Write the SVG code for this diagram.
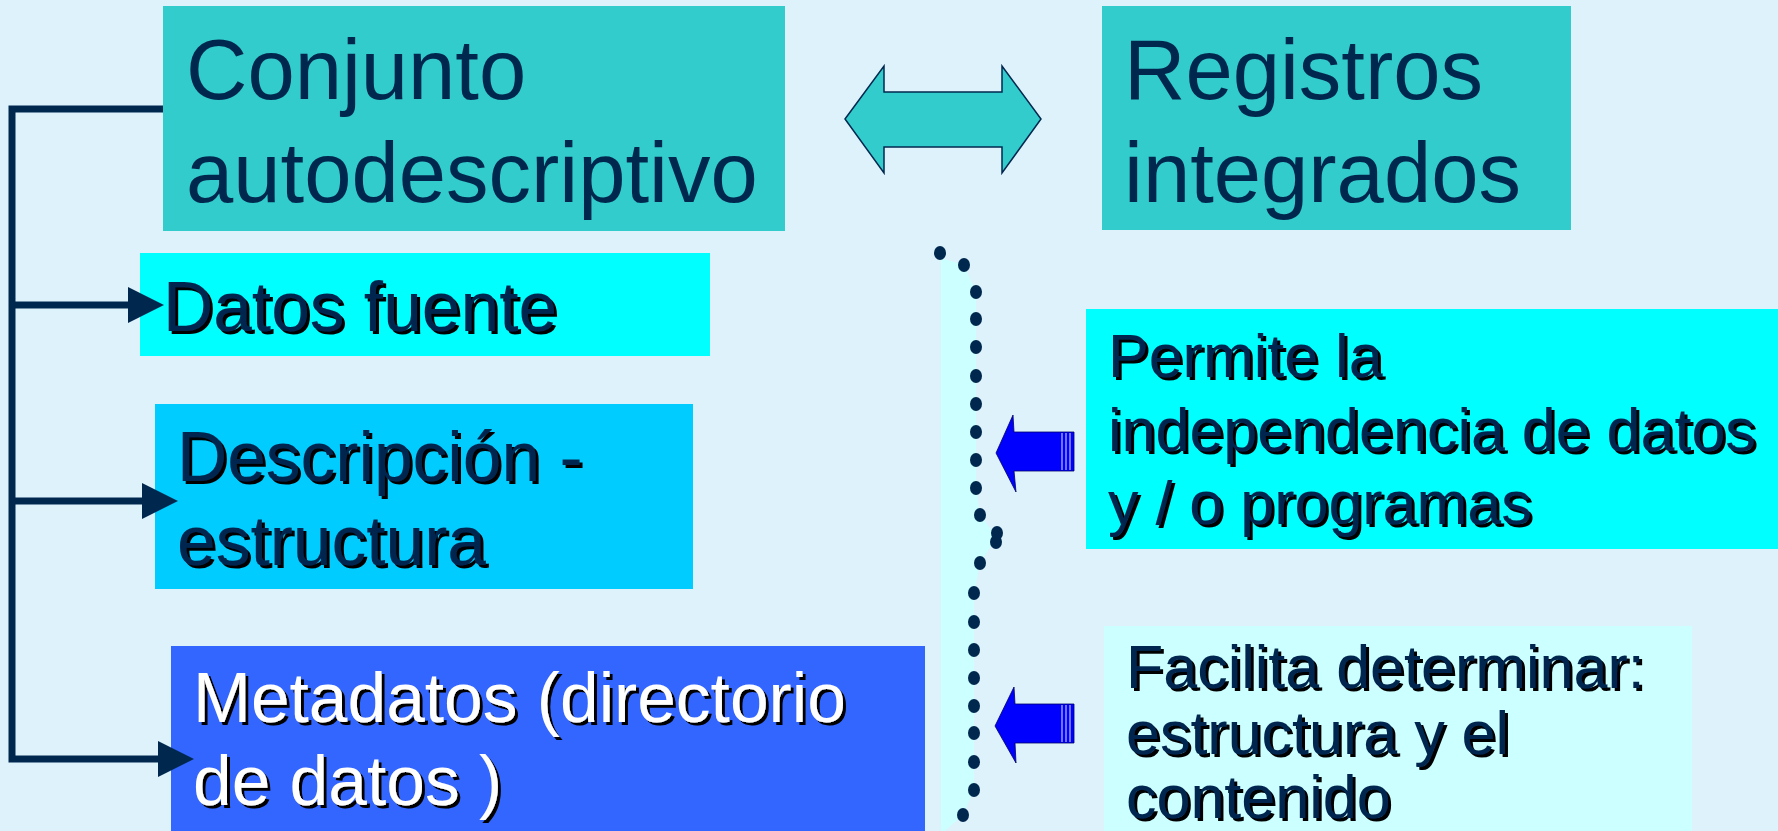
<svg xmlns="http://www.w3.org/2000/svg" width="1778" height="831" viewBox="0 0 1778 831">
<style>
.t{font-family:"Liberation Sans",Arial,sans-serif;}
.big{font-size:85px;fill:#00284F;}
.mid{font-size:69.5px;fill:#00284F;}
.sm{font-size:61px;fill:#00284F;}
.wh{font-size:69.5px;fill:#FFFFFF;}
.sh{filter:url(#shadow);}
.conn{fill:none;stroke:#00284F;stroke-width:7;}
.dot{fill:#00284F;}
.barrow{fill:#0000FF;stroke:#000066;stroke-width:0.8;}
.stripe{stroke:#9999FF;stroke-width:1.5;}
</style>
<defs>
<filter id="shadow" x="-5%" y="-10%" width="115%" height="130%">
<feDropShadow dx="3" dy="3" stdDeviation="0" flood-color="#000000" flood-opacity="1"/>
</filter>
<marker id="ah" viewBox="0 0 36 36" refX="0" refY="18" markerWidth="36" markerHeight="36" markerUnits="userSpaceOnUse" orient="auto">
<path d="M0,0 L36,18 L0,36 Z" fill="#00284F"/>
</marker>
</defs>
<rect x="0" y="0" width="1778" height="831" fill="#DEF2FC"/>

<g id="conjunto">
<rect x="163" y="6" width="622" height="225" fill="#33CCCC"/>
<text class="t big" x="186" y="99">Conjunto</text>
<text class="t big" x="186" y="202">autodescriptivo</text>
</g>

<g id="double-arrow">
<path d="M845,119 L884,66 L884,92 L1002,92 L1002,66 L1041,119 L1002,173 L1002,147 L884,147 L884,173 Z" fill="#33CCCC" stroke="#00284F" stroke-width="1.5"/>
</g>

<g id="registros">
<rect x="1102" y="6" width="469" height="224" fill="#33CCCC"/>
<text class="t big" x="1124" y="99">Registros</text>
<text class="t big" x="1124" y="202">integrados</text>
</g>

<g id="datos-fuente">
<rect x="140" y="253" width="570" height="103" fill="#00FFFF"/>
<text class="t mid sh" x="163" y="331">Datos fuente</text>
</g>

<g id="descripcion">
<rect x="155" y="404" width="538" height="185" fill="#00CCFF"/>
<text class="t mid sh" x="177" y="481">Descripción -</text>
<text class="t mid sh" x="177" y="565">estructura</text>
</g>

<g id="metadatos">
<rect x="171" y="646" width="754" height="185" fill="#3366FF"/>
<text class="t wh sh" x="193" y="722">Metadatos (directorio</text>
<text class="t wh sh" x="193" y="805">de datos )</text>
</g>

<g id="bracket">
<polygon points="941,258 964,265 976,292 976,488 980,515 997,537 980,563 974,593 974,790 963,815 945,831 941,831" fill="#CCFFFF"/>
<ellipse class="dot" cx="940" cy="253" rx="6" ry="7"/>
<ellipse class="dot" cx="964" cy="265" rx="6" ry="7"/>
<ellipse class="dot" cx="976" cy="292" rx="6" ry="7"/>
<ellipse class="dot" cx="976" cy="319" rx="6" ry="7"/>
<ellipse class="dot" cx="976" cy="347" rx="6" ry="7"/>
<ellipse class="dot" cx="976" cy="376" rx="6" ry="7"/>
<ellipse class="dot" cx="976" cy="404" rx="6" ry="7"/>
<ellipse class="dot" cx="976" cy="432" rx="6" ry="7"/>
<ellipse class="dot" cx="976" cy="460" rx="6" ry="7"/>
<ellipse class="dot" cx="976" cy="488" rx="6" ry="7"/>
<ellipse class="dot" cx="980" cy="515" rx="6" ry="7"/>
<ellipse class="dot" cx="997" cy="533" rx="6" ry="7"/>
<ellipse class="dot" cx="996" cy="542" rx="6" ry="7"/>
<ellipse class="dot" cx="980" cy="563" rx="6" ry="7"/>
<ellipse class="dot" cx="974" cy="593" rx="6" ry="7"/>
<ellipse class="dot" cx="974" cy="622" rx="6" ry="7"/>
<ellipse class="dot" cx="974" cy="650" rx="6" ry="7"/>
<ellipse class="dot" cx="974" cy="678" rx="6" ry="7"/>
<ellipse class="dot" cx="974" cy="706" rx="6" ry="7"/>
<ellipse class="dot" cx="974" cy="733" rx="6" ry="7"/>
<ellipse class="dot" cx="974" cy="762" rx="6" ry="7"/>
<ellipse class="dot" cx="974" cy="790" rx="6" ry="7"/>
<ellipse class="dot" cx="963" cy="815" rx="6" ry="7"/>
</g>

<g id="arrow-permite">
<path class="barrow" d="M996,453 L1013,415 L1014,432 L1074,432 L1074,471 L1014,471 L1016,492 Z"/>
<line class="stripe" x1="1062" y1="433" x2="1062" y2="470"/>
<line class="stripe" x1="1066" y1="433" x2="1066" y2="470"/>
<line class="stripe" x1="1070" y1="433" x2="1070" y2="470"/>
</g>

<g id="arrow-facilita">
<path class="barrow" d="M995,726 L1014,687 L1015,704 L1074,704 L1074,743 L1015,743 L1016,763 Z"/>
<line class="stripe" x1="1062" y1="705" x2="1062" y2="742"/>
<line class="stripe" x1="1066" y1="705" x2="1066" y2="742"/>
<line class="stripe" x1="1070" y1="705" x2="1070" y2="742"/>
</g>

<g id="permite">
<rect x="1086" y="309" width="692" height="240" fill="#00FFFF"/>
<text class="t sm sh" x="1108" y="377">Permite la</text>
<text class="t sm sh" x="1108" y="451">independencia de datos</text>
<text class="t sm sh" x="1108" y="524">y / o programas</text>
</g>

<g id="facilita">
<rect x="1104" y="626" width="588" height="205" fill="#CCFFFF"/>
<text class="t sm sh" x="1126" y="688">Facilita determinar:</text>
<text class="t sm sh" x="1126" y="754">estructura y el</text>
<text class="t sm sh" x="1126" y="818">contenido</text>
</g>

<g id="connectors">
<path class="conn" d="M163,109 L12,109 L12,759 L158,759" marker-end="url(#ah)"/>
<path class="conn" d="M12,305 L128,305" marker-end="url(#ah)"/>
<path class="conn" d="M12,501 L142,501" marker-end="url(#ah)"/>
</g>
</svg>
